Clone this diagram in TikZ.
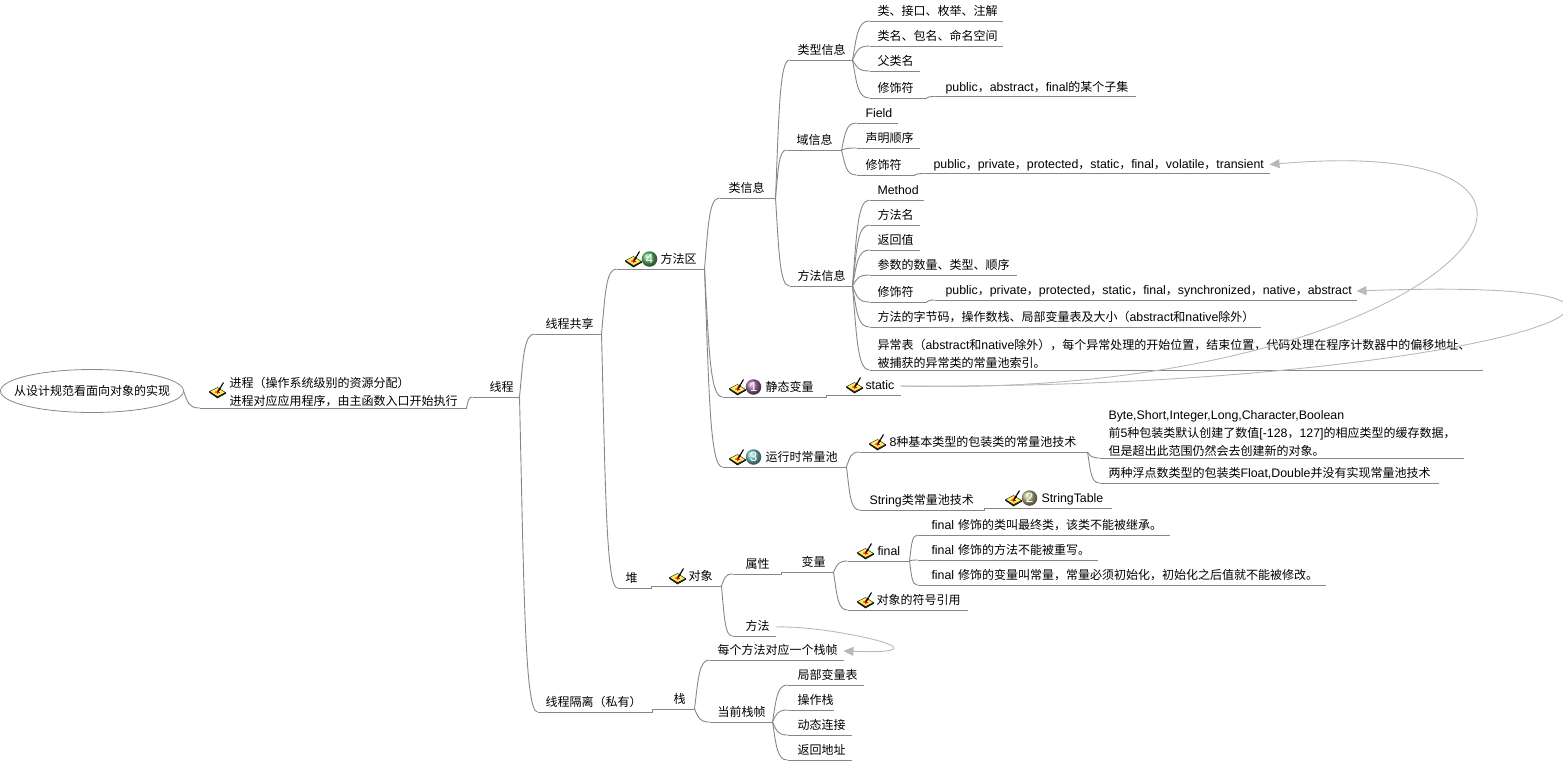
\documentclass[tikz,border=0pt]{standalone}
\usepackage{fontspec}
\usepackage{tikz}
\usetikzlibrary{positioning, arrows.meta, shapes.geometric, shadings, calc}
\setmainfont[Scale=1.03]{Liberation Sans}
\newfontfamily\cjk{Noto Sans CJK SC}
\newcommand{\lat}[1]{{\rmfamily #1}}
\definecolor{branchgray}{RGB}{135,135,135}
\definecolor{crossgray}{RGB}{185,185,185}
\definecolor{tabletyellow}{RGB}{255,240,90}
\definecolor{ballgreen}{RGB}{90,185,105}
\definecolor{ballpurple}{RGB}{165,105,165}
\definecolor{ballteal}{RGB}{115,195,195}
\definecolor{ballolive}{RGB}{180,180,130}
\tikzset{
    branch/.style={draw=branchgray, line width=0.9pt},
    topic/.style={anchor=south west, inner xsep=8pt, inner ysep=0pt, outer sep=0pt,
        text height=12.5pt, text depth=5.5pt, font=\fontsize{12}{14}\selectfont\cjk,
        append after command={(\tikzlastnode.south west) edge[branch] (\tikzlastnode.south east)}},
    multi/.style={text depth=3pt},
    conn/.style={branch, to path={let \p1=(\tikztostart), \p2=(\tikztotarget) in
        .. controls ({\x1+.25*(\x2-\x1)}, {\y1+.62*(\y2-\y1)}) and ({\x1+.3*(\x2-\x1)}, \y2) .. (\tikztotarget)}},
    cross/.style={draw=crossgray, line width=0.9pt, -{Triangle[length=10pt, width=9pt, fill=crossgray]}},
    badge/.style={circle, shading=ball, ball color=#1, text=white, inner sep=0pt, outer sep=0pt,
        minimum size=15.5pt, font=\fontsize{13}{14}\selectfont},
    brush/.pic={
        \fill[black!75, draw=black, line width=0.5pt] (-8,-2.5) -- (0,-8) -- (8,-3.5) -- (8,-2.5) -- (0,-6.5) -- (-8,-1.5) -- cycle;
        \fill[tabletyellow, draw=black, line width=0.4pt] (-8,-1.5) -- (0,2.5) -- (8,-2.5) -- (0,-6.5) -- cycle;
        \draw[red, line width=0.9pt] (-2.5,-2) -- (2.5,-2.6) (-0.3,-0.5) -- (0.3,-4);
        \draw[black, line width=1.5pt] (0.5,-1.5) -- (3,2.5);
        \draw[black, line width=1.1pt] (3,2.5) -- (6,7.5);
    }
}

\begin{document}
\begin{tikzpicture}[x=1pt, y=1pt, >=Latex]
    \useasboundingbox (0,0) rectangle (1563,-761);

    \node[ellipse, draw=branchgray, line width=0.8pt, inner sep=0pt, outer sep=0pt, minimum width=183pt, minimum height=43pt, font=\fontsize{12}{14}\selectfont\cjk] (root) at (92,-391) {\makebox[100pt]{从设计规范看面向对象的实现}};

    \node[below right=17pt and 16pt of root.east, topic, multi, text width=251pt] (proc) {\hspace*{22pt}\parbox[b]{229pt}{\baselineskip=18pt 进程（操作系统级别的资源分配）\\进程对应应用程序，由主函数入口开始执行}};
    \node[above right=11pt and 6pt of proc.south east, topic, text width=31pt] (thread) {\hspace*{9pt}线程};

    \node[above right=63pt and 15pt of thread.south east, topic, text width=51pt] (shared) {\hspace*{3pt}线程共享};
    \node[below right=315pt and 18pt of thread.south east, topic, text width=99pt] (priv) {线程隔离（私有）};

    \node[above right=65pt and 15pt of shared.south east, topic, text width=72pt] (marea) {\hspace*{36pt}方法区};
    \node[below right=254pt and 16pt of shared.south east, topic, text width=18pt] (heap) {堆};

    \node[above right=71pt and 15pt of marea.south east, topic, text width=40pt] (cinfo) {\hspace*{1pt}类信息};
    \node[below right=128pt and 18pt of marea.south east, topic, text width=88pt] (svar) {\hspace*{35pt}静态变量};
    \node[below right=198pt and 18pt of marea.south east, topic, text width=108pt] (rpool) {\hspace*{35pt}运行时常量池};

    \node[above right=138pt and 14pt of cinfo.south east, topic, text width=47pt] (tinfo) {类型信息};
    \node[above right=48pt and 11pt of cinfo.south east, topic, text width=39pt] (finfo) {\hspace*{2pt}域信息};
    \node[below right=88pt and 14pt of cinfo.south east, topic, text width=47pt] (minfo) {方法信息};

    \node[above right=39pt and 17pt of tinfo.south east, topic, text width=117pt] (tkind) {类、接口、枚举、注解};
    \node[above right=14pt and 17pt of tinfo.south east, topic, text width=117pt] (tname) {类名、包名、命名空间};
    \node[below right=11pt and 17pt of tinfo.south east, topic, text width=34pt] (tsuper) {父类名};
    \node[below right=38pt and 17pt of tinfo.south east, topic, text width=41pt] (tmod) {修饰符};
    \node[above right=1.5pt and 8pt of tmod.south east, topic, text width=185pt] (tmodv) {\hspace*{3pt}\mbox{\lat{public}，\lat{abstract}，\lat{final}的某个子集}};

    \node[above right=27pt and 15pt of finfo.south east, topic, text width=25pt] (ffield) {\hspace*{1pt}\lat{Field}};
    \node[above right=2pt and 15pt of finfo.south east, topic, text width=47pt] (forder) {\hspace*{1pt}声明顺序};
    \node[below right=25pt and 15pt of finfo.south east, topic, text width=42pt] (fmod) {\hspace*{1pt}修饰符};
    \node[above right=1.5pt and 10pt of fmod.south east, topic, text width=329pt] (fmodv) {\hspace*{1pt}\mbox{\lat{public}，\lat{private}，\lat{protected}，\lat{static}，\lat{final}，\lat{volatile}，\lat{transient}}};

    \node[above right=86pt and 17pt of minfo.south east, topic, text width=38pt] (mmethod) {\lat{Method}};
    \node[above right=61pt and 17pt of minfo.south east, topic, text width=34pt] (mname) {方法名};
    \node[above right=36pt and 17pt of minfo.south east, topic, text width=34pt] (mret) {返回值};
    \node[above right=11pt and 17pt of minfo.south east, topic, text width=131pt] (mpar) {参数的数量、类型、顺序};
    \node[below right=16pt and 17pt of minfo.south east, topic, text width=41pt] (mmod) {修饰符};
    \node[above right=2pt and 8pt of mmod.south east, topic, text width=406pt] (mmodv) {\hspace*{3pt}\mbox{\lat{public}，\lat{private}，\lat{protected}，\lat{static}，\lat{final}，\lat{synchronized}，\lat{native}，\lat{abstract}}};
    \node[below right=41pt and 17pt of minfo.south east, topic, text width=375pt] (mcode) {\mbox{方法的字节码，操作数栈、局部变量表及大小（\lat{abstract}和\lat{native}除外）}};
    \node[below right=84pt and 17pt of minfo.south east, topic, multi, text width=597pt] (mexc) {\parbox[b]{597pt}{\baselineskip=18pt 异常表（\lat{abstract}和\lat{native}除外），每个异常处理的开始位置，结束位置，代码处理在程序计数器中的偏移地址、\\被捕获的异常类的常量池索引。}};

    \node[above right=2pt and 0pt of svar.south east, topic, text width=58pt] (stat) {\hspace*{31pt}\lat{static}};

    \node[above right=15pt and 13pt of rpool.south east, topic, text width=212pt] (pbox) {\hspace*{22pt}\mbox{\lat{8}种基本类型的包装类的常量池技术}};
    \node[below right=43pt and 13pt of rpool.south east, topic, text width=109pt] (pstr) {\hspace*{2pt}\mbox{\lat{String}类常量池技术}};
    \node[above right=2pt and 0pt of pstr.south east, topic, text width=111pt] (ptable) {\hspace*{49pt}\lat{StringTable}};
    \node[below right=6pt and 12pt of pbox.south east, topic, multi, text width=348pt] (pcache) {\hspace*{1pt}\parbox[b]{345pt}{\baselineskip=18pt \lat{Byte,Short,Integer,Long,Character,Boolean}\\前\lat{5}种包装类默认创建了数值\lat{[-128}，\lat{127]}的相应类型的缓存数据，\\但是超出此范围仍然会去创建新的对象。}};
    \node[below right=31pt and 12pt of pbox.south east, topic, text width=323pt] (pfloat) {\hspace*{1pt}\mbox{两种浮点数类型的包装类\lat{Float,Double}并没有实现常量池技术}};

    \node[above right=2pt and 0pt of heap.south east, topic, text width=54pt] (obj) {\hspace*{29pt}对象};
    \node[above right=12pt and 11pt of obj.south east, topic, text width=33pt] (oattr) {\hspace*{5pt}属性};
    \node[below right=50pt and 11pt of obj.south east, topic, text width=27pt] (ometh) {\hspace*{5pt}方法};
    \node[above right=2pt and 0pt of oattr.south east, topic, text width=36pt] (ovar) {\hspace*{12pt}变量};
    \node[above right=11pt and 14pt of ovar.south east, topic, text width=46pt] (vfinal) {\hspace*{22pt}\lat{final}};
    \node[below right=38pt and 14pt of ovar.south east, topic, text width=104pt] (vref) {\hspace*{21pt}对象的符号引用};
    \node[above right=26pt and 8pt of vfinal.south east, topic, text width=236pt] (fclass) {\hspace*{6pt}\mbox{\lat{final}~修饰的类叫最终类，该类不能被继承。}};
    \node[above right=1pt and 8pt of vfinal.south east, topic, text width=164pt] (fmeth) {\hspace*{6pt}\mbox{\lat{final}~修饰的方法不能被重写。}};
    \node[below right=24pt and 8pt of vfinal.south east, topic, text width=392pt] (fvar) {\hspace*{6pt}\mbox{\lat{final}~修饰的变量叫常量，常量必须初始化，初始化之后值就不能被修改。}};

    \node[above right=3pt and 0pt of priv.south east, topic, text width=26pt] (stack) {\hspace*{13pt}栈};
    \node[above right=49pt and 15pt of stack.south east, topic, text width=118pt] (sframe) {每个方法对应一个栈帧};
    \node[below right=13pt and 15pt of stack.south east, topic, text width=47pt] (scur) {当前栈帧};
    \node[above right=37pt and 15pt of scur.south east, topic, text width=60pt] (slocal) {\hspace*{2pt}局部变量表};
    \node[above right=12pt and 15pt of scur.south east, topic, text width=30pt] (sop) {\hspace*{2pt}操作栈};
    \node[below right=13pt and 15pt of scur.south east, topic, text width=48pt] (sdyn) {\hspace*{2pt}动态连接};
    \node[below right=38pt and 15pt of scur.south east, topic, text width=48pt] (sret) {\hspace*{2pt}返回地址};

    \pic at ($(proc.south west)+(18,18)$) {brush};
    \pic at ($(marea.south west)+(17,10)$) {brush};
    \node[badge=ballgreen] (bfour) at ($(marea.south west)+(33,10)$) {4};
    \pic at ($(svar.south west)+(15,10)$) {brush};
    \node[badge=ballpurple] (bone) at ($(svar.south west)+(31,10)$) {1};
    \pic at ($(rpool.south west)+(15,10)$) {brush};
    \node[badge=ballteal] (bthree) at ($(rpool.south west)+(31,10)$) {3};
    \pic at ($(stat.south west)+(28,10)$) {brush};
    \pic at ($(pbox.south west)+(18,10)$) {brush};
    \pic at ($(ptable.south west)+(29,10)$) {brush};
    \node[badge=ballolive] (btwo) at ($(ptable.south west)+(45,10)$) {2};
    \pic at ($(obj.south west)+(26,10)$) {brush};
    \pic at ($(vfinal.south west)+(18,10)$) {brush};
    \pic at ($(vref.south west)+(18,10)$) {brush};

    \draw[conn] (root.east) to (proc.south west);
    \draw[conn] (proc.south east) to (thread.south west);
    \draw[conn] (thread.south east) to (shared.south west);
    \draw[conn] (thread.south east) to (priv.south west);
    \draw[conn] (shared.south east) to (marea.south west);
    \draw[conn] (shared.south east) to (heap.south west);
    \draw[conn] (marea.south east) to (cinfo.south west);
    \draw[conn] (marea.south east) to (svar.south west);
    \draw[conn] (marea.south east) to (rpool.south west);
    \draw[conn] (cinfo.south east) to (tinfo.south west);
    \draw[conn] (cinfo.south east) to (finfo.south west);
    \draw[conn] (cinfo.south east) to (minfo.south west);
    \draw[conn] (tinfo.south east) to (tkind.south west);
    \draw[conn] (tinfo.south east) to (tname.south west);
    \draw[conn] (tinfo.south east) to (tsuper.south west);
    \draw[conn] (tinfo.south east) to (tmod.south west);
    \draw[conn] (tmod.south east) to (tmodv.south west);
    \draw[conn] (finfo.south east) to (ffield.south west);
    \draw[conn] (finfo.south east) to (forder.south west);
    \draw[conn] (finfo.south east) to (fmod.south west);
    \draw[conn] (fmod.south east) to (fmodv.south west);
    \draw[conn] (minfo.south east) to (mmethod.south west);
    \draw[conn] (minfo.south east) to (mname.south west);
    \draw[conn] (minfo.south east) to (mret.south west);
    \draw[conn] (minfo.south east) to (mpar.south west);
    \draw[conn] (minfo.south east) to (mmod.south west);
    \draw[conn] (mmod.south east) to (mmodv.south west);
    \draw[conn] (minfo.south east) to (mcode.south west);
    \draw[conn] (minfo.south east) to (mexc.south west);
    \draw[conn] (svar.south east) to (stat.south west);
    \draw[conn] (rpool.south east) to (pbox.south west);
    \draw[conn] (rpool.south east) to (pstr.south west);
    \draw[conn] (pstr.south east) to (ptable.south west);
    \draw[conn] (pbox.south east) to (pcache.south west);
    \draw[conn] (pbox.south east) to (pfloat.south west);
    \draw[conn] (heap.south east) to (obj.south west);
    \draw[conn] (obj.south east) to (oattr.south west);
    \draw[conn] (obj.south east) to (ometh.south west);
    \draw[conn] (oattr.south east) to (ovar.south west);
    \draw[conn] (ovar.south east) to (vfinal.south west);
    \draw[conn] (ovar.south east) to (vref.south west);
    \draw[conn] (vfinal.south east) to (fclass.south west);
    \draw[conn] (vfinal.south east) to (fmeth.south west);
    \draw[conn] (vfinal.south east) to (fvar.south west);
    \draw[conn] (priv.south east) to (stack.south west);
    \draw[conn] (stack.south east) to (sframe.south west);
    \draw[conn] (stack.south east) to (scur.south west);
    \draw[conn] (scur.south east) to (slocal.south west);
    \draw[conn] (scur.south east) to (sop.south west);
    \draw[conn] (scur.south east) to (sdyn.south west);
    \draw[conn] (scur.south east) to (sret.south west);

    \draw[cross] (stat.east) .. controls (1450,-400) and (1670,-130) .. (fmodv.east);
    \draw[cross] (stat.east) .. controls (1480,-390) and (1800,-275) .. (mmodv.east);
    \draw[cross] (ometh.east) .. controls (830,-625) and (960,-655) .. (sframe.east);
\end{tikzpicture}
\end{document}
